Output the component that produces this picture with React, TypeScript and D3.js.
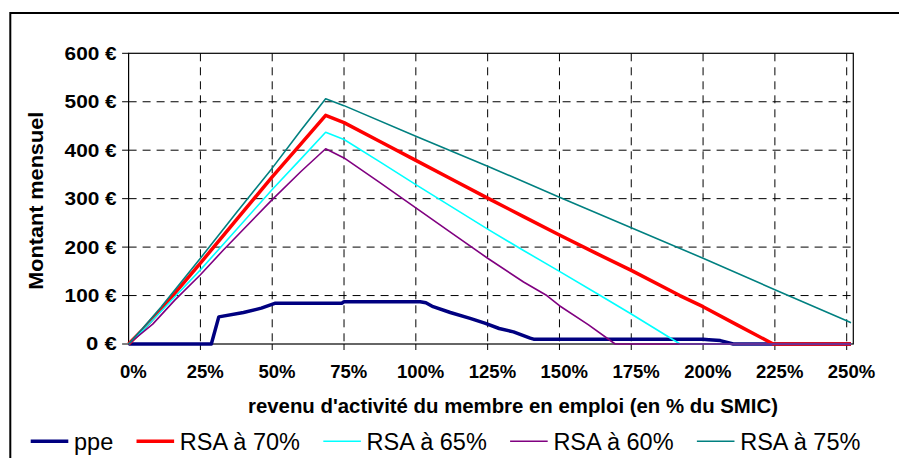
import { useEffect, useRef } from 'react';
import * as d3 from 'd3';

// x = revenu d'activité (% du SMIC), y = montant mensuel (€)
const xTicks = [0, 25, 50, 75, 100, 125, 150, 175, 200, 225, 250];
const yTicks = [0, 100, 200, 300, 400, 500, 600];

const ppe: [number, number][] = [
  [0, 0], [28.8, 0], [31.4, 56], [40, 65], [46.2, 74], [50.9, 84], [74.2, 84], [75, 87],
  [101.5, 87], [103.5, 85], [106, 77], [112, 65], [118.9, 53], [124, 43], [129, 32],
  [134, 25], [139.8, 12], [141, 10], [200, 10], [202, 9], [206, 7], [210.5, 0], [251.5, 0],
];

const rsa70: [number, number][] = [
  [0, 0], [5, 30], [11.4, 72], [25, 167], [37.5, 256], [50, 345], [60, 413], [68.6, 472],
  [75, 457], [87.5, 418], [100, 379], [112.5, 340], [125, 301], [137.5, 263], [150, 225],
  [162.5, 188], [175, 152], [191.9, 100], [200, 77], [212, 39], [224.4, 0], [251.5, 0],
];

const rsa65: [number, number][] = [
  [0, 0], [5, 28], [11.4, 68], [25, 153], [37.5, 236], [50, 319], [60, 382], [68.6, 437],
  [75, 422], [87.5, 376], [100, 329], [112.5, 283], [125, 237], [137.5, 193], [150, 150],
  [164.2, 100], [175, 62], [192, 0], [251.5, 0],
];

const rsa60: [number, number][] = [
  [0, 0], [8.4, 41], [16, 90], [25, 143], [33, 194], [50, 298], [60, 356], [68.6, 403],
  [75, 384], [87.5, 333], [100, 281], [112.5, 229], [125, 177], [137.5, 128], [145.6, 100],
  [150, 79], [160, 40], [169.4, 0], [251.5, 0],
];

const rsa75: [number, number][] = [
  [0, 0], [5, 33], [11.4, 77], [25, 177], [37.5, 271], [50, 363], [60, 441], [68.6, 506],
  [75, 492], [100, 429], [125, 367], [150, 303], [175, 240], [200, 177], [225, 112],
  [250, 48], [251.5, 44],
];

const seriesNames = ['ppe', 'RSA à 70%', 'RSA à 65%', 'RSA à 60%', 'RSA à 75%'];
const seriesData = [ppe, rsa70, rsa65, rsa60, rsa75];
const seriesColors = ['#000080', '#ff0000', '#00ffff', '#800080', '#008080'];
const seriesWidths = [3.5, 3.5, 1.6, 1.6, 1.6];

const FONT = "'Liberation Sans', Arial, sans-serif";

export default function App() {
  const svgRef = useRef<SVGSVGElement>(null);

  useEffect(() => {
    if (!svgRef.current) return;
    const svg = d3.select(svgRef.current);
    svg.selectAll('*').remove();

    const x = d3.scaleLinear().domain([0, 252.3]).range([128.6, 853.3]);
    const y = d3.scaleLinear().domain([0, 600]).range([344, 53.3]);

    svg.append('rect').attr('width', 899).attr('height', 458).attr('fill', '#fff');

    // outer chart frame
    svg
      .append('rect')
      .attr('x', 10.3)
      .attr('y', 13)
      .attr('width', 920)
      .attr('height', 480)
      .attr('fill', 'none')
      .attr('stroke', '#000')
      .attr('stroke-width', 2);

    // grid
    const grid = svg.append('g').attr('stroke', '#000').attr('stroke-width', 1).attr('stroke-dasharray', '8,6');
    yTicks
      .filter((v) => v > 0 && v < 600)
      .forEach((v) => {
        grid.append('line').attr('x1', x(0)).attr('x2', x(252.3)).attr('y1', y(v)).attr('y2', y(v));
      });
    xTicks
      .filter((p) => p > 0)
      .forEach((p) => {
        grid.append('line').attr('x1', x(p)).attr('x2', x(p)).attr('y1', y(600)).attr('y2', y(0));
      });

    // tick marks
    const ticks = svg.append('g').attr('stroke', '#000').attr('stroke-width', 1);
    yTicks.forEach((v) => {
      ticks.append('line').attr('x1', x(0) - 6.5).attr('x2', x(0)).attr('y1', y(v)).attr('y2', y(v));
    });
    xTicks
      .filter((p) => p > 0)
      .forEach((p) => {
        ticks.append('line').attr('x1', x(p)).attr('x2', x(p)).attr('y1', y(0)).attr('y2', y(0) + 6);
      });

    // plot border
    svg
      .append('rect')
      .attr('x', x(0))
      .attr('y', y(600))
      .attr('width', x(252.3) - x(0))
      .attr('height', y(0) - y(600))
      .attr('fill', 'none')
      .attr('stroke', '#000')
      .attr('stroke-width', 1.2);

    // series
    const line = d3
      .line<[number, number]>()
      .x((d) => x(d[0]))
      .y((d) => y(d[1]));

    seriesData.forEach((pts, i) => {
      svg
        .append('path')
        .datum(pts)
        .attr('fill', 'none')
        .attr('stroke', seriesColors[i])
        .attr('stroke-width', seriesWidths[i])
        .attr('stroke-linejoin', 'round')
        .attr('d', line);
    });

    // y tick labels
    yTicks.forEach((v) => {
      const label = `${v} €`;
      svg
        .append('text')
        .attr('x', 116.7)
        .attr('y', y(v) + 6.4)
        .attr('text-anchor', 'end')
        .attr('font-family', FONT)
        .attr('font-weight', 'bold')
        .attr('font-size', 17.5)
        .attr('textLength', 10.7 * String(v).length + 20)
        .attr('lengthAdjust', 'spacingAndGlyphs')
        .text(label);
    });

    // x tick labels
    xTicks.forEach((p) => {
      svg
        .append('text')
        .attr('x', x(p) + 4.8)
        .attr('y', 378)
        .attr('text-anchor', 'middle')
        .attr('font-family', FONT)
        .attr('font-weight', 'bold')
        .attr('font-size', 18.5)
        .text(`${p}%`);
    });

    // axis titles
    svg
      .append('text')
      .attr('transform', 'translate(42.7,200.8) rotate(-90)')
      .attr('text-anchor', 'middle')
      .attr('font-family', FONT)
      .attr('font-weight', 'bold')
      .attr('font-size', 21)
      .attr('textLength', 178)
      .attr('lengthAdjust', 'spacingAndGlyphs')
      .text('Montant mensuel');

    svg
      .append('text')
      .attr('x', 513)
      .attr('y', 413.3)
      .attr('text-anchor', 'middle')
      .attr('font-family', FONT)
      .attr('font-weight', 'bold')
      .attr('font-size', 20)
      .attr('textLength', 530)
      .attr('lengthAdjust', 'spacingAndGlyphs')
      .text("revenu d'activité du membre en emploi (en % du SMIC)");

    // legend
    let lx = 30.7;
    seriesNames.forEach((name, i) => {
      svg
        .append('line')
        .attr('x1', lx)
        .attr('x2', lx + 37.6)
        .attr('y1', 441.3)
        .attr('y2', 441.3)
        .attr('stroke', seriesColors[i])
        .attr('stroke-width', seriesWidths[i]);
      const t = svg
        .append('text')
        .attr('x', lx + 43.3)
        .attr('y', 450)
        .attr('font-family', FONT)
        .attr('font-size', 23.5)
        .attr('fill', '#000')
        .text(name);
      const w = (t.node() as SVGTextElement).getComputedTextLength();
      lx = lx + 43.3 + w + 23.3;
    });
  }, []);

  return (
    <svg
      ref={svgRef}
      width={899}
      height={458}
      style={{ position: 'absolute', left: 0, top: 0, display: 'block' }}
    />
  );
}
